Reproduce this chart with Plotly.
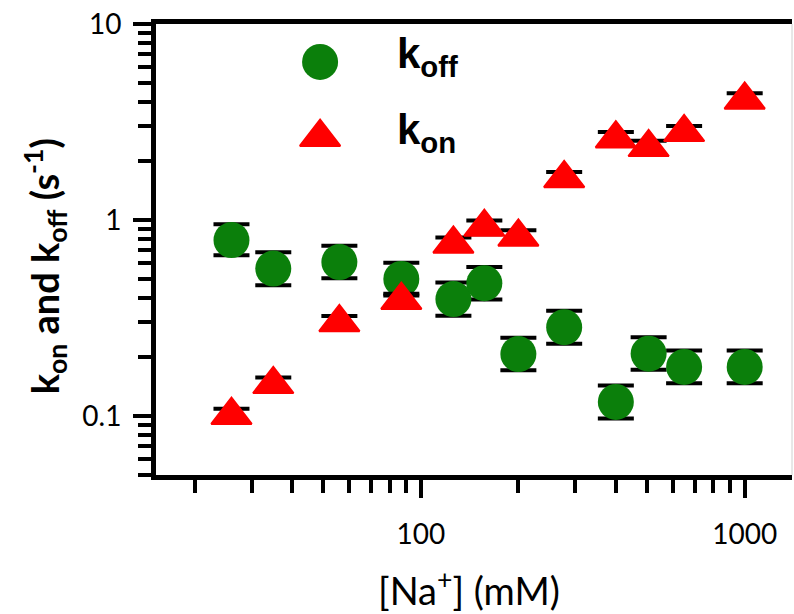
import math
import plotly.graph_objects as go

# ---- data ----
na_mM = [26, 35, 56, 87, 126, 157, 200, 277, 400, 505, 650, 1000]
k_off = [0.79, 0.565, 0.61, 0.50, 0.395, 0.476, 0.207, 0.284, 0.118, 0.208, 0.178, 0.178]
k_off_err_up = [0.16, 0.12, 0.13, 0.105, 0.085, 0.10, 0.044, 0.06, 0.025, 0.044, 0.038, 0.038]
k_off_err_dn = [0.13, 0.10, 0.105, 0.088, 0.07, 0.083, 0.036, 0.05, 0.021, 0.036, 0.031, 0.031]
k_on = [0.101, 0.145, 0.30, 0.39, 0.755, 0.92, 0.82, 1.63, 2.6, 2.35, 2.8, 4.1]
k_on_err = [0.008, 0.012, 0.024, 0.031, 0.06, 0.074, 0.066, 0.13, 0.21, 0.19, 0.22, 0.33]

x_tickvals = [100, 1000]
x_ticktext = ["100", "1000"]
y_tickvals = [0.1, 1, 10]
y_ticktext = ["0.1", "1", "10"]

series_names = ["k<sub>off</sub>", "k<sub>on</sub>"]

GREEN = "#0b7f0b"
RED = "#ff0000"
TICK_FONT = dict(family="Lato", size=28, color="black")

fig = go.Figure()

fig.add_trace(go.Scatter(
    x=na_mM, y=k_off, mode="markers", name=series_names[0],
    marker=dict(symbol="circle", size=36, color=GREEN),
    error_y=dict(type="data", symmetric=False, array=k_off_err_up, arrayminus=k_off_err_dn,
                 color="black", thickness=4, width=18),
    showlegend=False, cliponaxis=False,
))
fig.add_trace(go.Scatter(
    x=na_mM, y=k_on, mode="markers", name=series_names[1],
    marker=dict(symbol="triangle-up", size=35, color=RED, line=dict(color=RED, width=2)),
    error_y=dict(type="data", array=k_on_err, color="black", thickness=4, width=18),
    showlegend=False, cliponaxis=False,
))

# legend keys (on an overlay unit axis)
legend_x = 0.258
legend_y = [0.916, 0.749]
fig.add_trace(go.Scatter(x=[legend_x], y=[legend_y[0]], xaxis="x2", yaxis="y2", mode="markers",
                         marker=dict(symbol="circle", size=36, color=GREEN),
                         showlegend=False, cliponaxis=False, hoverinfo="skip"))
fig.add_trace(go.Scatter(x=[legend_x], y=[legend_y[1]], xaxis="x2", yaxis="y2", mode="markers",
                         marker=dict(symbol="triangle-up", size=35, color=RED,
                                     line=dict(color=RED, width=2)),
                         showlegend=False, cliponaxis=False, hoverinfo="skip"))

annotations = []
for name, ly in zip(series_names, legend_y):
    annotations.append(dict(
        text="<b>" + name + "</b>", xref="paper", yref="paper", x=0.376, y=ly,
        xanchor="left", yanchor="middle", showarrow=False,
        font=dict(family="Liberation Sans", size=42, color="black"), yshift=5,
    ))

annotations.append(dict(
    text="<b>k<sub>on</sub> and k<sub>off</sub> (s<sup>-1</sup>)</b>",
    xref="paper", yref="paper", x=-0.175, y=0.462, textangle=-90,
    xanchor="center", yanchor="middle", showarrow=False,
    font=dict(family="Lato", size=38, color="black"),
))
annotations.append(dict(
    text="[Na<sup>+</sup>] (mM)",
    xref="paper", yref="paper", x=0.492, y=-0.25,
    xanchor="center", yanchor="middle", showarrow=False,
    font=dict(family="Lato", size=38, color="black"),
))

axis_common = dict(
    type="log", showline=True, linewidth=5, linecolor="black",
    ticks="outside", ticklen=18, tickwidth=4, tickcolor="black",
    showgrid=False, zeroline=False, tickfont=TICK_FONT, ticklabeloverflow="allow",
    minor=dict(ticks="outside", ticklen=13, tickwidth=4, tickcolor="black",
               dtick="D1", showgrid=False),
)

fig.update_layout(
    width=794, height=614,
    margin=dict(l=156, r=2, t=24, b=139, autoexpand=False),
    paper_bgcolor="white", plot_bgcolor="white",
    xaxis=dict(axis_common, range=[math.log10(15.2), math.log10(1400)],
               tickmode="array", tickvals=x_tickvals, ticktext=x_ticktext,
               mirror=True, ticklabelstandoff=12),
    yaxis=dict(axis_common, range=[math.log10(0.05), 1],
               tickmode="array", tickvals=y_tickvals, ticktext=y_ticktext,
               ticklabelstandoff=6),
    xaxis2=dict(overlaying="x", range=[0, 1], visible=False),
    yaxis2=dict(overlaying="y", range=[0, 1], visible=False),
    annotations=annotations,
    shapes=[dict(type="line", xref="paper", yref="paper", x0=1, x1=1, y0=0, y1=1,
                 line=dict(color="#d0d0d0", width=1))],
    showlegend=False,
)

fig.write_html("out.html", config={"displayModeBar": False},
               post_script="document.body.style.margin='0';")
